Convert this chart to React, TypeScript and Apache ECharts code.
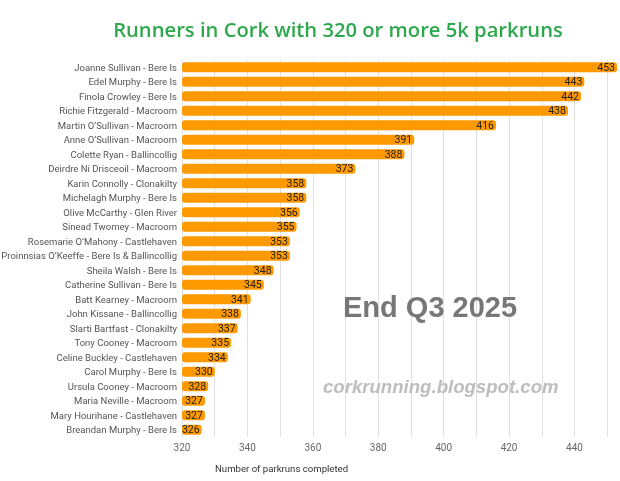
import React, { useEffect, useRef } from "react";
import * as echarts from "echarts";

const runners = [
  "Joanne Sullivan - Bere Is",
  "Edel Murphy - Bere Is",
  "Finola Crowley - Bere Is",
  "Richie Fitzgerald - Macroom",
  "Martin O’Sullivan - Macroom",
  "Anne O’Sullivan - Macroom",
  "Colette Ryan - Ballincollig",
  "Deirdre Ni Drisceoil - Macroom",
  "Karin Connolly - Clonakilty",
  "Michelagh Murphy - Bere Is",
  "Olive McCarthy - Glen River",
  "Sinead Twomey - Macroom",
  "Rosemarie O’Mahony - Castlehaven",
  "Proinnsias O’Keeffe - Bere Is & Ballincollig",
  "Sheila Walsh - Bere Is",
  "Catherine Sullivan - Bere Is",
  "Batt Kearney - Macroom",
  "John Kissane - Ballincollig",
  "Slarti Bartfast - Clonakilty",
  "Tony Cooney - Macroom",
  "Celine Buckley - Castlehaven",
  "Carol Murphy - Bere Is",
  "Ursula Cooney - Macroom",
  "Maria Neville - Macroom",
  "Mary Hourihane - Castlehaven",
  "Breandan Murphy - Bere Is",
];

const parkruns = [
  453, 443, 442, 438, 416, 391, 388, 373, 358, 358, 356, 355, 353, 353, 348,
  345, 341, 338, 337, 335, 334, 330, 328, 327, 327, 326,
];

const axisMin = 320;
const axisMax = 453;
const tickStep = 10;

export default function App() {
  const ref = useRef<HTMLDivElement>(null);
  useEffect(() => {
    if (!ref.current) return;
    const chart = echarts.init(ref.current, null, { renderer: "svg" });
    chart.setOption({
      animation: false,
      title: {
        text: "Runners in Cork with 320 or more 5k parkruns",
        left: 333,
        top: 14,
        textAlign: "center",
        textStyle: {
          fontFamily: "Open Sans",
          fontWeight: 600,
          fontSize: 20.2,
          color: "#2ea84c",
        },
      },
      grid: {
        left: 182,
        right: 3,
        top: 60,
        bottom: 44,
        containLabel: false,
        outerBoundsMode: "none",
      },
      xAxis: {
        type: "value",
        min: axisMin,
        max: axisMax,
        interval: tickStep,
        name: "Number of parkruns completed",
        nameLocation: "start",
        nameGap: 0,
        nameTextStyle: {
          fontFamily: "Roboto",
          fontSize: 9.6,
          color: "#333",
          align: "left",
          verticalAlign: "top",
          padding: [26, 0, 0, 33],
        },
        axisLine: { show: false },
        axisTick: { show: false },
        axisLabel: {
          fontFamily: "Roboto",
          fontSize: 10,
          color: "#666",
          margin: 5,
          showMaxLabel: false,
          formatter: (v: number) => (v % 20 === 0 ? String(v) : ""),
        },
        splitLine: {
          show: true,
          showMaxLine: false,
          lineStyle: { color: "#e0e0e0", width: 1 },
        },
      },
      yAxis: {
        type: "category",
        data: runners,
        inverse: true,
        axisLine: { show: false },
        axisTick: { show: false },
        axisLabel: {
          fontFamily: "Roboto",
          fontSize: 9.5,
          color: "#555",
          margin: 5,
        },
      },
      series: [
        {
          type: "bar",
          data: parkruns,
          barWidth: 10,
          itemStyle: { color: "#ff9900", borderRadius: 3 },
          label: {
            show: true,
            position: "insideRight",
            distance: 2,
            fontFamily: "Roboto",
            fontSize: 10.5,
            color: "#222",
          },
        },
      ],
      graphic: [
        {
          type: "text",
          left: 343,
          top: 292,
          z: 100,
          style: {
            text: "End Q3 2025",
            font: "bold 29px Liberation Sans",
            fill: "#777",
          },
        },
        {
          type: "text",
          left: 323,
          top: 377,
          z: 100,
          style: {
            text: "corkrunning.blogspot.com",
            font: "italic bold 18.6px Liberation Sans",
            fill: "#bdbdbd",
          },
        },
      ],
    });
    return () => chart.dispose();
  }, []);
  return (
    <div
      ref={ref}
      style={{ position: "fixed", left: 0, top: 0, width: 620, height: 481 }}
    />
  );
}
